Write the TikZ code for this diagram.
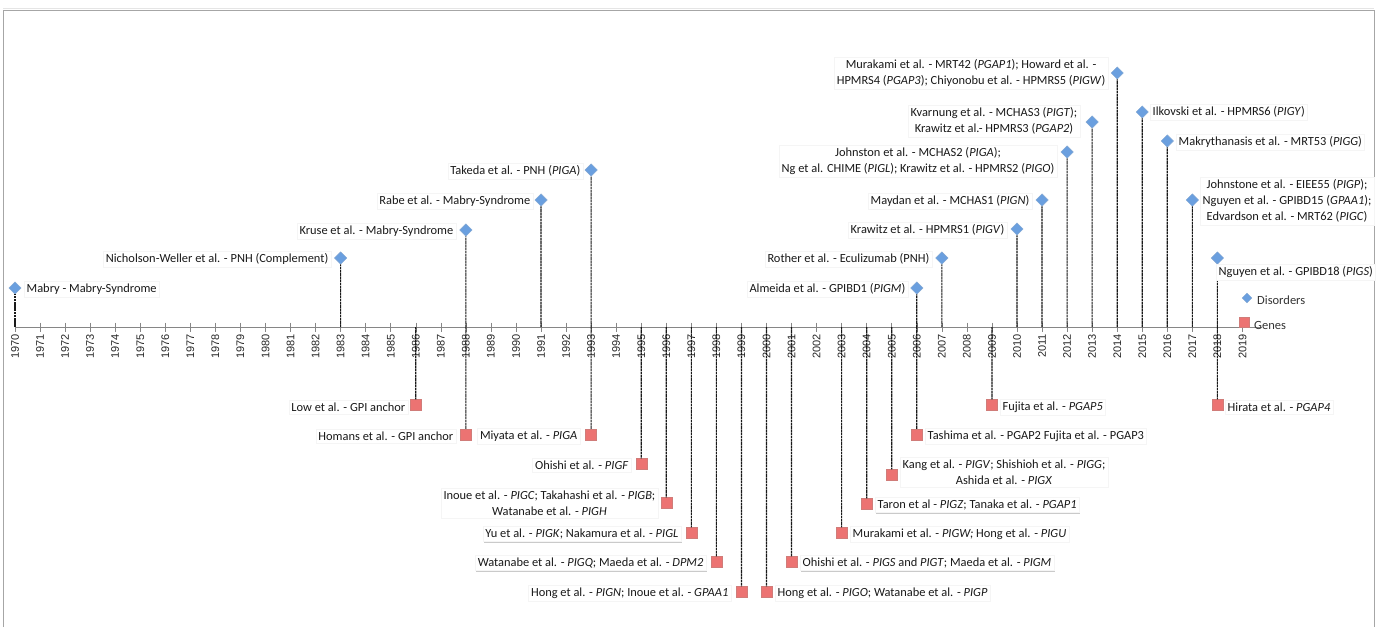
\documentclass[tikz,border=0pt]{standalone}
\usepackage{fontspec}
\setmainfont{Carlito}
\newfontfamily\axisfont{Liberation Sans}
\usetikzlibrary{shapes.geometric,shadows}
\definecolor{disfill}{HTML}{6A9FDF}
\definecolor{disedge}{HTML}{4F81BD}
\definecolor{genfill}{HTML}{EC7372}
\definecolor{genedge}{HTML}{C0504D}
\definecolor{axisgray}{HTML}{868686}
\definecolor{framegray}{HTML}{A6A6A6}
\begin{document}
\begin{tikzpicture}[x=1pt,y=-1pt,
  lbl/.style={fill=white, draw=black!4, inner sep=2.5pt, align=center, text=black!90,
    font=\fontsize{12.4}{16}\selectfont,
    drop shadow={shadow xshift=0.7pt, shadow yshift=-1.3pt, opacity=0.35, fill=black!60}},
  dis/.style={diamond, fill=disfill, draw=disedge!70, line width=0.4pt, inner sep=0pt, minimum size=12.5pt},
  gen/.style={rectangle, fill=genfill, draw=genedge!75, line width=0.4pt, inner sep=0pt, minimum size=11pt},
  conn/.style={black!90, line width=1.15pt, dash pattern=on 2.6pt off 0.6pt},
  tick/.style={axisgray, line width=0.6pt},
  yearlbl/.style={rotate=90, anchor=east, font=\axisfont\fontsize{11}{11}\selectfont, inner sep=0pt, text=black!85},
  legtext/.style={anchor=west, inner sep=0pt, text=black!80, font=\fontsize{12.5}{12.5}\selectfont}
]
\useasboundingbox (0,0) rectangle (1378,627);

% outer frame
\draw[framegray, line width=0.8pt] (3,627) -- (3,10) -- (1374,10) -- (1374,627);
\draw[black!10, line width=0.6pt] (3,8.6) -- (1374,8.6);

% time axis with yearly ticks
\coordinate (axend) at (1262,327);
\foreach \i in {0,...,49} {
  \pgfmathsetmacro\xx{15+25.05*\i}
  \pgfmathtruncatemacro\yr{1970+\i}
  \coordinate (a\yr) at (\xx,327);
  \draw[tick] (\xx,322.5) -- (\xx,331.5);
  \node[yearlbl] (yl\yr) at (\xx,334) {\yr};
}
\draw[axisgray, line width=0.8pt] (a1970) -- (axend);

% ---------------- disorders (above the axis) ----------------
\node[dis] (d1970) at (15,288) {};
\node[dis] (d1983) at (340.65,258) {};
\node[dis] (d1988) at (465.9,230) {};
\node[dis] (d1991) at (541.05,200) {};
\node[dis] (d1993) at (591.15,170) {};
\node[dis] (d2006) at (916.8,288) {};
\node[dis] (d2007) at (941.85,258) {};
\node[dis] (d2010) at (1017,229) {};
\node[dis] (d2011) at (1042.05,200) {};
\node[dis] (d2012) at (1067.1,152) {};
\node[dis] (d2013) at (1092.15,122) {};
\node[dis] (d2014) at (1117.2,73) {};
\node[dis] (d2015) at (1142.25,112) {};
\node[dis] (d2016) at (1167.3,141) {};
\node[dis] (d2017) at (1192.35,200) {};
\node[dis] (d2018) at (1217.4,258) {};

\foreach \y in {1970,1983,1988,1991,1993,2006,2007,2010,2011,2012,2013,2014,2015,2016,2017,2018}
  \draw[conn] (a\y) -- (d\y.south);

\node[lbl, anchor=west] (l1970) at (24,289) {Mabry - Mabry-Syndrome};
\node[lbl, anchor=east] (l1983) at (331,259) {Nicholson-Weller et al. - PNH (Complement)};
\node[lbl, anchor=east] (l1988) at (456,231) {Kruse et al. - Mabry-Syndrome};
\node[lbl, anchor=east] (l1991) at (533,201) {Rabe et al. - Mabry-Syndrome};
\node[lbl, anchor=east] (l1993) at (583,171) {Takeda et al. - PNH (\textit{PIGA})};
\node[lbl, anchor=east] (l2006) at (908,289) {Almeida et al. - GPIBD1 (\textit{PIGM})};
\node[lbl, anchor=east] (l2007) at (932,259) {Rother et al. - Eculizumab (PNH)};
\node[lbl, anchor=east] (l2010) at (1007,230) {Krawitz et al. - HPMRS1 (\textit{PIGV})};
\node[lbl, anchor=east] (l2011) at (1032,201) {Maydan et al. - MCHAS1 (\textit{PIGN})};
\node[lbl, anchor=east] (l2012) at (1057,161) {Johnston et al. - MCHAS2 (\textit{PIGA});\\Ng et al. CHIME (\textit{PIGL}); Krawitz et al. - HPMRS2 (\textit{PIGO})};
\node[lbl, anchor=east] (l2013) at (1080,121) {Kvarnung et al. - MCHAS3 (\textit{PIGT});\\Krawitz et al.- HPMRS3 (\textit{PGAP2})};
\node[lbl, anchor=east] (l2014) at (1108,73) {Murakami et al. - MRT42 (\textit{PGAP1}); Howard et al. -\\HPMRS4 (\textit{PGAP3}); Chiyonobu et al. - HPMRS5 (\textit{PIGW})};
\node[lbl, anchor=west] (l2015) at (1150,112) {Ilkovski et al. - HPMRS6 (\textit{PIGY})};
\node[lbl, anchor=west] (l2016) at (1176,142) {Makrythanasis et al. - MRT53 (\textit{PIGG})};
\node[lbl, anchor=west] (l2017) at (1200,201) {Johnstone et al. - EIEE55 (\textit{PIGP});\\Nguyen et al. - GPIBD15 (\textit{GPAA1});\\Edvardson et al. - MRT62 (\textit{PIGC})};
\node[lbl, anchor=west] (l2018) at (1216,272) {Nguyen et al. - GPIBD18 (\textit{PIGS})};

% ---------------- genes (below the axis) ----------------
\node[gen] (g1986) at (415.8,405) {};
\node[gen] (g1988) at (465.9,435) {};
\node[gen] (g1993) at (591.15,435) {};
\node[gen] (g1995) at (641.25,464) {};
\node[gen] (g1996) at (666.3,503) {};
\node[gen] (g1997) at (691.35,533) {};
\node[gen] (g1998) at (716.4,562) {};
\node[gen] (g1999) at (741.45,592) {};
\node[gen] (g2000) at (766.5,592) {};
\node[gen] (g2001) at (791.55,562) {};
\node[gen] (g2003) at (841.65,533) {};
\node[gen] (g2004) at (866.7,504) {};
\node[gen] (g2005) at (891.75,475) {};
\node[gen] (g2006) at (916.8,435) {};
\node[gen] (g2009) at (991.95,405) {};
\node[gen] (g2018) at (1217.4,405) {};

\foreach \y in {1986,1988,1993,1995,1996,1997,1998,1999,2000,2001,2003,2004,2005,2006,2009,2018}
  \draw[conn] (a\y) -- (g\y.north);

\node[lbl, anchor=east] (m1986) at (408,407) {Low et al. - GPI anchor};
\node[lbl, anchor=east] (m1988) at (456,436) {Homans et al. - GPI anchor};
\node[lbl, anchor=east] (m1993) at (580,436) {Miyata et al. - \textit{PIGA}};
\node[lbl, anchor=east] (m1995) at (631,465) {Ohishi et al. - \textit{PIGF}};
\node[lbl, anchor=east] (m1996) at (658,503) {Inoue et al. - \textit{PIGC}; Takahashi et al. - \textit{PIGB};\\Watanabe et al. - \textit{PIGH}};
\node[lbl, anchor=east] (m1997) at (681,534) {Yu et al. - \textit{PIGK}; Nakamura et al. - \textit{PIGL}};
\node[lbl, anchor=east] (m1998) at (706,563) {Watanabe et al. - \textit{PIGQ}; Maeda et al. - \textit{DPM2}};
\node[lbl, anchor=east] (m1999) at (731,593) {Hong et al. - \textit{PIGN}; Inoue et al. - \textit{GPAA1}};
\node[lbl, anchor=west] (m2000) at (775,593) {Hong et al. - \textit{PIGO}; Watanabe et al. - \textit{PIGP}};
\node[lbl, anchor=west] (m2001) at (800,563) {Ohishi et al. - \textit{PIGS} and \textit{PIGT}; Maeda et al. - \textit{PIGM}};
\node[lbl, anchor=west] (m2003) at (850,534) {Murakami et al. - \textit{PIGW; }Hong et al. - \textit{PIGU}};
\node[lbl, anchor=west] (m2004) at (875,505) {Taron et al - \textit{PIGZ}; Tanaka et al. - \textit{PGAP1}};
\node[lbl, anchor=west] (m2005) at (900,472) {Kang et al. - \textit{PIGV}; Shishioh et al. - \textit{PIGG};\\Ashida et al. - \textit{PIGX}};
\node[lbl, anchor=west] (m2006) at (925,436) {Tashima et al. - PGAP2 Fujita et al. - PGAP3};
\node[lbl, anchor=west] (m2009) at (1000,407) {Fujita et al. - \textit{PGAP5}};
\node[lbl, anchor=west] (m2018) at (1225,407) {Hirata et al. - \textit{PGAP4}};

% legend
\node[dis, minimum size=10pt] (legd) at (1247,298) {};
\node[legtext] (legdt) at (1257,300) {Disorders};
\node[gen, minimum size=10pt] (legg) at (1244,322) {};
\node[legtext] (leggt) at (1254,325) {Genes};
\end{tikzpicture}
\end{document}
